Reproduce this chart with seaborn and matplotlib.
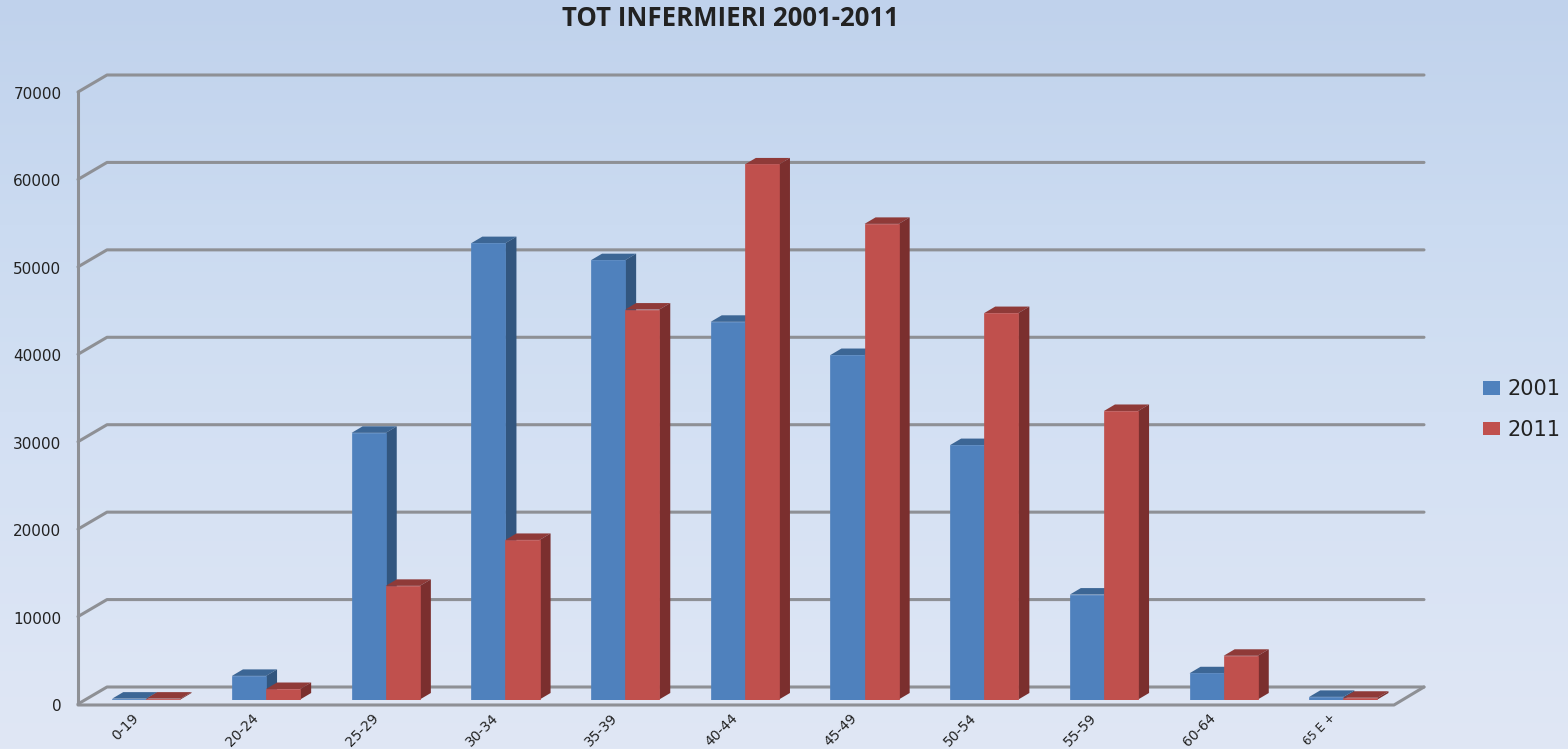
import numpy as np
import pandas as pd
import matplotlib
matplotlib.use("Agg")
import matplotlib.pyplot as plt
from matplotlib.patches import Polygon
from matplotlib.transforms import ScaledTranslation
import seaborn as sns

# data
age_groups = ["0-19", "20-24", "25-29", "30-34", "35-39", "40-44",
              "45-49", "50-54", "55-59", "60-64", "65 E +"]
values_2001 = [100, 2700, 30500, 52200, 50250, 43200, 39400, 29100, 12000, 3000, 300]
values_2011 = [100, 1200, 13000, 18250, 44600, 61200, 54400, 44200, 33000, 5000, 200]
y_ticks = [0, 10000, 20000, 30000, 40000, 50000, 60000, 70000]

W, H = 1568, 749
BLUE, RED = "#4f81bd", "#c0504d"
TOP = {BLUE: "#3c6695", RED: "#8f3a38"}
SIDE = {BLUE: "#32567f", RED: "#7b2f2e"}
FRAME = "#8e9095"

sns.set_theme(style="white")
plt.rcParams["font.family"] = ["DejaVu Sans"]

df = pd.DataFrame({
    "age": age_groups * 2,
    "value": values_2001 + values_2011,
    "year": ["2001"] * len(age_groups) + ["2011"] * len(age_groups),
})

fig = plt.figure(figsize=(W / 100, H / 100), dpi=100)

# background + 3d frame, in pixel coordinates
bg = fig.add_axes([0, 0, 1, 1], zorder=0)
bg.set_xlim(0, W)
bg.set_ylim(H, 0)
bg.axis("off")
grad = np.array([[192, 210, 236], [203, 219, 241], [211, 224, 243], [224, 231, 245]]) / 255
rows = np.stack([np.interp(np.linspace(0, 1, H), [0, 0.3, 0.55, 1], grad[:, i]) for i in range(3)], axis=1)
bg.imshow(rows[:, None, :], extent=(0, W, H, 0), aspect="auto", zorder=0)

line_kw = dict(color=FRAME, lw=2.2, solid_capstyle="round", zorder=1)
for v in y_ticks:
    y = 704 - v * 612 / 70000
    bg.plot([78, 107, 1424], [y, y - 17, y - 17], **line_kw)
bg.plot([78, 78], [92, 704], **line_kw)
bg.plot([78, 1394, 1424], [705, 705, 687], **line_kw)
bg.set_xlim(0, W)
bg.set_ylim(H, 0)

# bars
ax = fig.add_axes([86.5 / W, (H - 699.5) / H, 1316.7 / W, 612 / H], zorder=1)
ax.patch.set_alpha(0)
sns.barplot(data=df, x="age", y="value", hue="year", hue_order=["2001", "2011"],
            palette=[BLUE, RED], width=0.57, gap=0, saturation=1, ax=ax)
ax.set_xlim(-0.5, 10.5)
ax.set_ylim(0, 70000)

# depth of the bars
dx = 11 / (1316.7 / 11)
dy = 6.5 * 70000 / 612
for i, (container, col) in enumerate(zip(ax.containers, [BLUE, RED])):
    for bar in container:
        x0, w, h = bar.get_x(), bar.get_width(), bar.get_height()
        bar.set_zorder(3 + 2 * i)
        bar.set_edgecolor(col)
        bar.set_linewidth(0.5)
        ax.add_patch(Polygon([(x0, h), (x0 + dx, h + dy), (x0 + w + dx, h + dy), (x0 + w, h)],
                             closed=True, fc=TOP[col], ec="none", zorder=2 + 2 * i, clip_on=False))
        ax.add_patch(Polygon([(x0 + w, 0), (x0 + w + dx, dy), (x0 + w + dx, h + dy), (x0 + w, h)],
                             closed=True, fc=SIDE[col], ec="none", zorder=2 + 2 * i, clip_on=False))

sns.despine(ax=ax, left=True, bottom=True)
ax.set_xlabel("")
ax.set_ylabel("")
ax.set_yticks(y_ticks)
ax.set_yticklabels([str(v) for v in y_ticks], fontsize=11, color="#222222")
ax.tick_params(axis="y", length=0, pad=18)
ax.set_xticks(range(len(age_groups)))
ax.set_xticklabels(age_groups, rotation=45, ha="right", rotation_mode="anchor",
                   fontsize=10, color="#222222")
ax.tick_params(axis="x", length=0, pad=8)
for lab in ax.get_yticklabels():
    lab.set_transform(lab.get_transform() + ScaledTranslation(0, -4 / 72, fig.dpi_scale_trans))
for lab in ax.get_xticklabels():
    lab.set_transform(lab.get_transform() + ScaledTranslation(-10.5 / 72, 0, fig.dpi_scale_trans))
# the longest label would run off the bottom edge at full size
ax.get_xticklabels()[-1].set_fontsize(8.5)

# legend
handles, labels = ax.get_legend_handles_labels()
for h in handles:
    h.set_edgecolor("none")
ax.get_legend().remove()
fig.legend(handles, labels, loc="center left", bbox_to_anchor=(1473 / W, 1 - 409.5 / H), frameon=False,
           fontsize=15, handlelength=0.78, handleheight=0.6, handletextpad=0.36, labelspacing=0.98,
           borderpad=0, labelcolor="#222222")

fig.text(730 / W, 1 - 19 / H, "TOT INFERMIERI 2001-2011", ha="center", va="center",
         fontsize=18.5, fontweight="bold", family="Open Sans", color="#222222")

fig.savefig("out.png", dpi=100)
